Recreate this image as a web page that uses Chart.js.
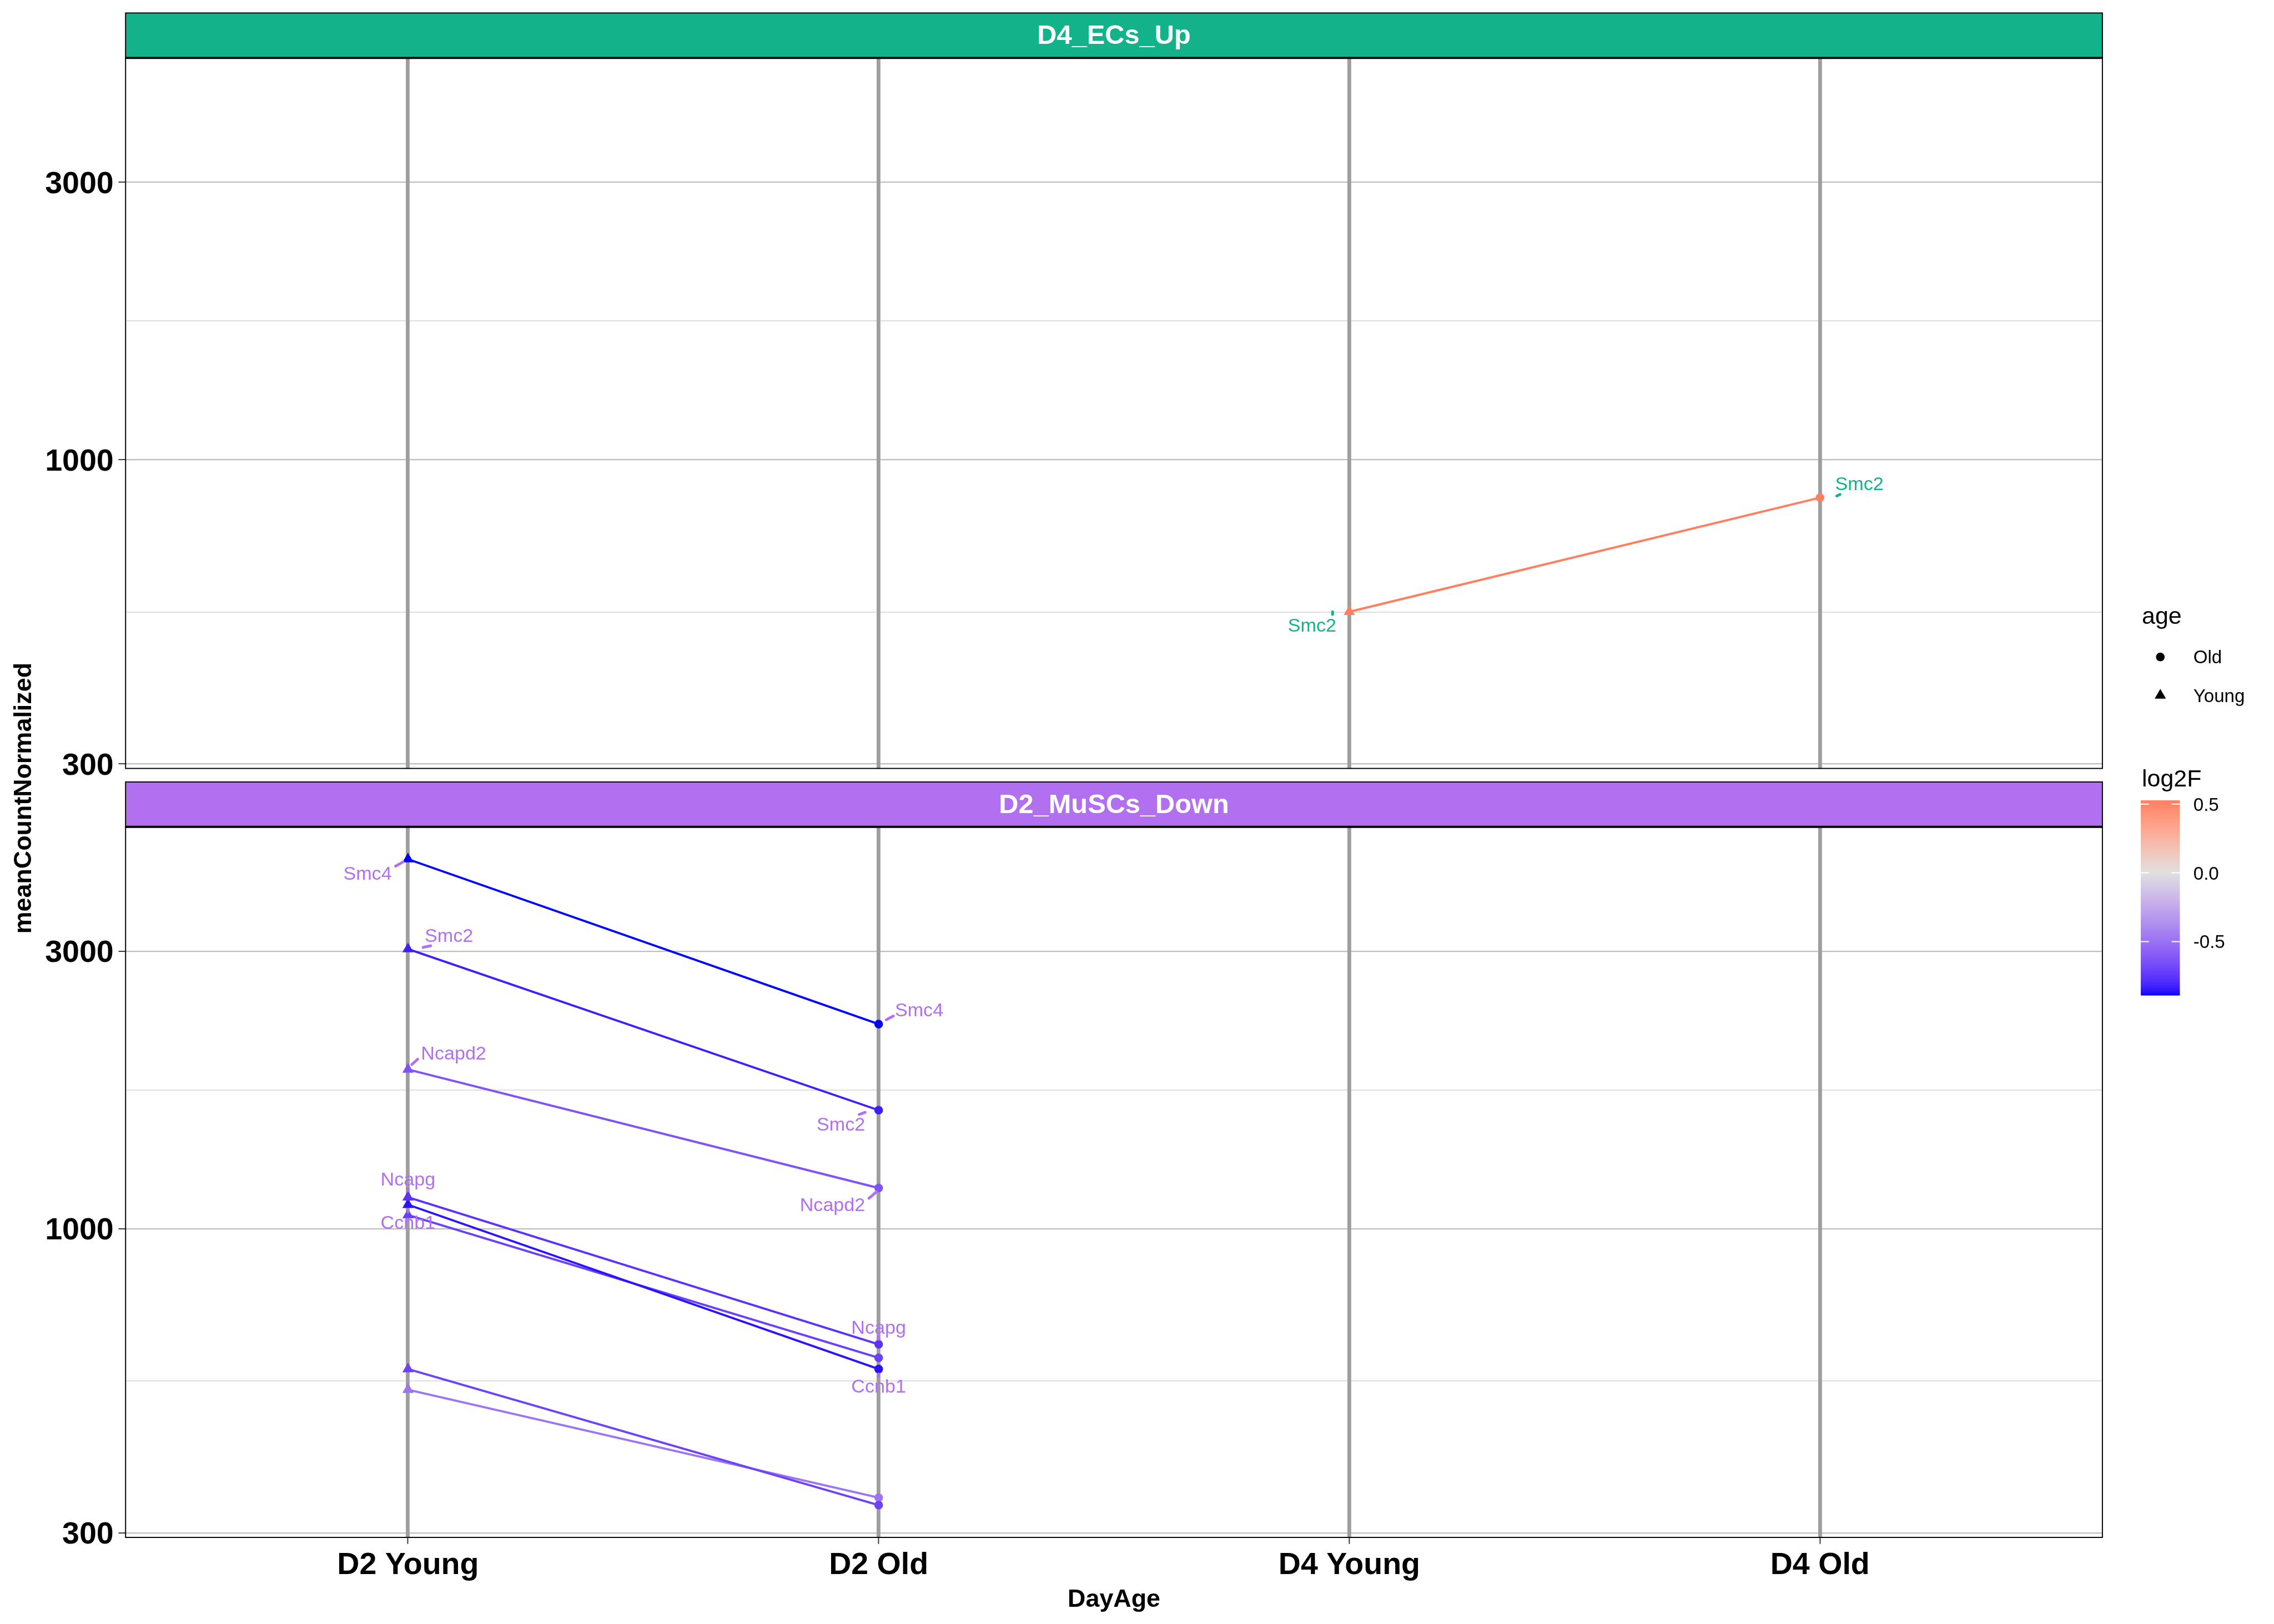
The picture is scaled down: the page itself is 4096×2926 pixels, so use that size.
<!DOCTYPE html>
<html><head><meta charset="utf-8">
<script src="https://cdn.jsdelivr.net/npm/chart.js@4.4.1/dist/chart.umd.min.js"></script>
<style>html,body{margin:0;padding:0;background:#fff;overflow:hidden}canvas{position:absolute;left:0;top:0}</style>
</head><body>
<canvas id="cBottom" width="4096" height="2926"></canvas>
<canvas id="cTop" width="4096" height="2926"></canvas>
<script>
// ---------------- DATA ----------------
const categories = ['D2 Young', 'D2 Old', 'D4 Young', 'D4 Old'];
const yTicks = [300, 1000, 3000];
const panelTitles = ['D4_ECs_Up', 'D2_MuSCs_Down'];

// Panel D4_ECs_Up
const ecsGenes   = ['Smc2'];
const ecsD4Young = [548];
const ecsD4Old   = [861];
const ecsLog2F   = [0.527];

// Panel D2_MuSCs_Down (null = gene without a text label)
const muscGenes   = ['Smc4', 'Smc2', 'Ncapd2', 'Ncapg', 'Ccnb1', null, null, null];
const muscD2Young = [4318, 3026, 1879, 1133, 1100, 1056, 574, 529];
const muscD2Old   = [2248, 1599, 1175, 633, 574, 600, 335, 345];
const muscLog2F   = [-0.89, -0.83, -0.63, -0.76, -0.86, -0.71, -0.70, -0.48];

const ageLevels = ['Old', 'Young'];
const colorbarTicks = [0.5, 0.0, -0.5];

// ---------------- STYLE / LAYOUT ----------------
const S = 0.975;
const W = 4096, H = 2926;
const FONT = "'Liberation Sans', Arial, Helvetica, sans-serif";
const panelColors = {'D4_ECs_Up': '#12B38A', 'D2_MuSCs_Down': '#B070F0'};
const ageShapes = {Young: 'triangle', Old: 'circle'};
const ageRadius = {Young: 12, Old: 8};

// label offsets (reference pixels) relative to the point: key gene|pointIndex
const labelLayout = {
  'D2_MuSCs_Down': {
    'Smc4|0':   {dx: -30, dy: 26,  align: 'right',  seg: [-23, 13, -9, 5]},
    'Smc2|0':   {dx: 31,  dy: -25, align: 'left',   seg: [28, -3, 42, -6]},
    'Ncapd2|0': {dx: 24,  dy: -30, align: 'left',   seg: [7, -9, 18, -19]},
    'Ncapg|0':  {dx: 0,   dy: -33, align: 'center', seg: [0, -16, 0, -12]},
    'Ccnb1|0':  {dx: 0,   dy: 33,  align: 'center', seg: [0, 10, 0, 14]},
    'Smc4|1':   {dx: 30,  dy: -26, align: 'left',   seg: [14, -8, 27, -15]},
    'Smc2|1':   {dx: -25, dy: 26,  align: 'right',  seg: [-36, 8, -25, 4]},
    'Ncapd2|1': {dx: -25, dy: 31,  align: 'right',  seg: [-18, 19, -4, 7]},
    'Ncapg|1':  {dx: 0,   dy: -31, align: 'center', seg: [0, -14, 0, -9]},
    'Ccnb1|1':  {dx: 0,   dy: 32,  align: 'center', seg: [0, 9, 0, 14]}
  },
  'D4_ECs_Up': {
    'Smc2|0': {dx: -24, dy: 25,  align: 'right', seg: [-31, 0, -31, 5]},
    'Smc2|1': {dx: 28,  dy: -26, align: 'left',  seg: [31, -3, 37, -6]}
  }
};

// ---------------- COLOUR SCALE (gradient2 in CIELAB) ----------------
function srgbToLin(c) { c /= 255; return c <= 0.04045 ? c / 12.92 : Math.pow((c + 0.055) / 1.055, 2.4); }
function linToSrgb(c) { c = Math.min(1, Math.max(0, c)); return Math.round(255 * (c <= 0.0031308 ? 12.92 * c : 1.055 * Math.pow(c, 1 / 2.4) - 0.055)); }
function hexToLab(hex) {
  const r = srgbToLin(parseInt(hex.slice(1, 3), 16)), g = srgbToLin(parseInt(hex.slice(3, 5), 16)), b = srgbToLin(parseInt(hex.slice(5, 7), 16));
  let X = (0.4124 * r + 0.3576 * g + 0.1805 * b) / 0.95047;
  let Y = (0.2126 * r + 0.7152 * g + 0.0722 * b);
  let Z = (0.0193 * r + 0.1192 * g + 0.9505 * b) / 1.08883;
  const f = t => t > 0.008856 ? Math.cbrt(t) : (7.787 * t + 16 / 116);
  const fx = f(X), fy = f(Y), fz = f(Z);
  return [116 * fy - 16, 500 * (fx - fy), 200 * (fy - fz)];
}
function labToRgb(L, a, b) {
  const fy = (L + 16) / 116, fx = fy + a / 500, fz = fy - b / 200;
  const fi = t => t * t * t > 0.008856 ? t * t * t : (t - 16 / 116) / 7.787;
  const X = fi(fx) * 0.95047, Y = fi(fy), Z = fi(fz) * 1.08883;
  const r = 3.2406 * X - 1.5372 * Y - 0.4986 * Z;
  const g = -0.9689 * X + 1.8758 * Y + 0.0415 * Z;
  const bb = 0.0557 * X - 0.2040 * Y + 1.0570 * Z;
  return 'rgb(' + linToSrgb(r) + ',' + linToSrgb(g) + ',' + linToSrgb(bb) + ')';
}
const allLog2F = ecsLog2F.concat(muscLog2F);
const vMin = Math.min(...allLog2F), vMax = Math.max(...allLog2F);
const LOW = hexToLab('#0000FF'), MID = hexToLab('#E0E0E0'), HIGH = hexToLab('#FF0000');
function colorFor(v) {
  const m = Math.max(Math.abs(vMin), Math.abs(vMax));
  const t = v / m;
  const to = t < 0 ? LOW : HIGH, f = Math.min(1, Math.abs(t));
  return labToRgb(MID[0] + (to[0] - MID[0]) * f, MID[1] + (to[1] - MID[1]) * f, MID[2] + (to[2] - MID[2]) * f);
}

// ---------------- Y RANGE (log, 5% expansion) ----------------
const allVals = ecsD4Young.concat(ecsD4Old, muscD2Young, muscD2Old);
const lLo = Math.log10(Math.min(...allVals)), lHi = Math.log10(Math.max(...allVals));
const ex = (lHi - lLo) * 0.05;
const yMin = Math.pow(10, lLo - ex), yMax = Math.pow(10, lHi + ex);
const yMinor = [];
for (let i = 0; i < yTicks.length - 1; i++) yMinor.push(Math.sqrt(yTicks[i] * yTicks[i + 1]));
const yAllTicks = yTicks.concat(yMinor).sort((a, b) => a - b);

// ---------------- DATASETS ----------------
function buildDatasets(genes, youngVals, oldVals, l2f, youngCat, oldCat) {
  const cats = [youngCat, oldCat];
  const ages = cats.map(c => c.split(' ')[1]);
  return genes.map((g, i) => {
    const col = colorFor(l2f[i]);
    return {
      label: g || '',
      gene: g,
      data: [{x: categories.indexOf(youngCat), y: youngVals[i]}, {x: categories.indexOf(oldCat), y: oldVals[i]}],
      borderColor: col, backgroundColor: col, pointBackgroundColor: col,
      borderWidth: 4 * S,
      pointStyle: ages.map(a => ageShapes[a]),
      pointRadius: ages.map(a => ageRadius[a] * S),
      pointHoverRadius: ages.map(a => ageRadius[a] * S),
      pointBorderWidth: 0, tension: 0, fill: false
    };
  });
}

// ---------------- PLUGINS ----------------
const facetPlugin = {
  id: 'facet',
  afterDraw(chart, args, opts) {
    const ctx = chart.ctx, a = chart.chartArea;
    const top = a.top - 83 * S;
    ctx.save();
    ctx.fillStyle = opts.color;
    ctx.fillRect(a.left, top, a.right - a.left, a.top - top);
    ctx.strokeStyle = '#000'; ctx.lineWidth = 2 * S;
    ctx.strokeRect(a.left, top, a.right - a.left, a.top - top);
    ctx.strokeRect(a.left, a.top, a.right - a.left, a.bottom - a.top);
    ctx.lineWidth = 4 * S;
    ctx.beginPath(); ctx.moveTo(a.left, a.top); ctx.lineTo(a.right, a.top); ctx.stroke();
    ctx.fillStyle = '#fff';
    ctx.font = 'bold ' + (50 * S) + 'px ' + FONT;
    ctx.textAlign = 'center'; ctx.textBaseline = 'middle';
    ctx.fillText(opts.title, (a.left + a.right) / 2, (top + a.top) / 2 + 2 * S);
    ctx.restore();
  }
};

const labelPlugin = {
  id: 'geneLabels',
  afterDatasetsDraw(chart, args, opts) {
    const layout = labelLayout[opts.panel] || {};
    const ctx = chart.ctx;
    ctx.save();
    ctx.font = (35 * S) + 'px ' + FONT;
    ctx.textBaseline = 'middle';
    ctx.fillStyle = opts.color; ctx.strokeStyle = opts.color;
    ctx.lineWidth = 5 * S; ctx.lineCap = 'round';
    chart.data.datasets.forEach((ds, di) => {
      if (!ds.gene) return;
      const meta = chart.getDatasetMeta(di);
      meta.data.forEach((pt, pi) => {
        const L = layout[ds.gene + '|' + pi];
        if (!L) return;
        ctx.beginPath();
        ctx.moveTo(pt.x + L.seg[0] * S, pt.y + L.seg[1] * S);
        ctx.lineTo(pt.x + L.seg[2] * S, pt.y + L.seg[3] * S);
        ctx.stroke();
        ctx.textAlign = L.align;
        ctx.fillText(ds.gene, pt.x + L.dx * S, pt.y + (L.dy + 2) * S);
      });
    });
    ctx.restore();
  }
};

const decorPlugin = {
  id: 'decor',
  afterDraw(chart, args, opts) {
    if (!opts.enabled) return;
    const ctx = chart.ctx;
    ctx.save();
    ctx.fillStyle = '#000';
    // axis titles
    ctx.font = 'bold ' + (46 * S) + 'px ' + FONT;
    ctx.textAlign = 'center'; ctx.textBaseline = 'alphabetic';
    ctx.fillText('DayAge', (chart.chartArea.left + chart.chartArea.right) / 2, 2969 * S);
    ctx.save();
    ctx.translate(57 * S, 1475 * S);
    ctx.rotate(-Math.PI / 2);
    ctx.fillText('meanCountNormalized', 0, 0);
    ctx.restore();
    // shape legend
    ctx.textAlign = 'left';
    ctx.font = (44 * S) + 'px ' + FONT;
    ctx.fillText('age', 3957 * S, 1153 * S);
    ageLevels.forEach((lvl, i) => {
      const cy = (1214 + i * 71) * S, cx = 3991 * S, r = ageRadius[lvl] * S;
      ctx.beginPath();
      if (ageShapes[lvl] === 'circle') {
        ctx.arc(cx, cy, r, 0, Math.PI * 2);
      } else {
        ctx.moveTo(cx, cy - r);
        ctx.lineTo(cx + Math.sin(2 * Math.PI / 3) * r, cy + r / 2);
        ctx.lineTo(cx - Math.sin(2 * Math.PI / 3) * r, cy + r / 2);
        ctx.closePath();
      }
      ctx.fill();
      ctx.font = (34 * S) + 'px ' + FONT;
      ctx.textBaseline = 'middle';
      ctx.fillText(lvl, 4052 * S, cy + (i ? 3 : 2) * S);
      ctx.textBaseline = 'alphabetic';
    });
    // colour bar
    ctx.font = (44 * S) + 'px ' + FONT;
    ctx.fillText('log2F', 3957 * S, 1453 * S);
    const bx = 3955 * S, bw = 72 * S, by = 1479 * S, bh = 360 * S;
    const n = Math.round(bh);
    for (let i = 0; i < n; i++) {
      const v = vMax - (i + 0.5) / n * (vMax - vMin);
      ctx.fillStyle = colorFor(v);
      ctx.fillRect(bx, by + i * bh / n, bw, bh / n + 0.6);
    }
    ctx.strokeStyle = '#fff'; ctx.lineWidth = 2 * S;
    ctx.font = (34 * S) + 'px ' + FONT;
    ctx.textBaseline = 'middle';
    colorbarTicks.forEach(t => {
      const y = by + (vMax - t) / (vMax - vMin) * bh;
      ctx.beginPath();
      ctx.moveTo(bx, y); ctx.lineTo(bx + 15 * S, y);
      ctx.moveTo(bx + bw - 15 * S, y); ctx.lineTo(bx + bw, y);
      ctx.stroke();
      ctx.fillStyle = '#000';
      ctx.fillText(t.toFixed(1), 4052 * S, y + 3 * S);
    });
    ctx.restore();
  }
};

// ---------------- CHARTS ----------------
function makePanel(canvasId, panel, datasets, areaTop, areaBottom, isBottom) {
  return new Chart(document.getElementById(canvasId), {
    type: 'line',
    data: {datasets},
    plugins: [facetPlugin, labelPlugin, decorPlugin],
    options: {
      responsive: false, animation: false, devicePixelRatio: 1,
      layout: {padding: {left: 0, right: W - 3884 * S, top: areaTop * S, bottom: 0}},
      events: [],
      plugins: {
        legend: {display: false}, tooltip: {enabled: false},
        facet: {title: panel, color: panelColors[panel]},
        geneLabels: {panel, color: panelColors[panel]},
        decor: {enabled: isBottom}
      },
      scales: {
        x: {
          type: 'linear', min: -0.6, max: 3.6,
          afterBuildTicks: s => { s.ticks = categories.map((c, i) => ({value: i})); },
          afterFit: s => { s.height = H - areaBottom * S; },
          border: {display: false},
          grid: {color: '#9E9E9E', lineWidth: 7 * S, drawTicks: isBottom, tickLength: 12 * S,
                 tickColor: '#333', tickWidth: 2 * S, z: -1},
          ticks: {display: isBottom, autoSkip: false, maxRotation: 0, minRotation: 0, padding: 8 * S,
                  color: '#000', font: {family: FONT, size: 57 * S, weight: 'bold', lineHeight: 1.12},
                  callback: v => categories[v]}
        },
        y: {
          type: 'logarithmic', min: yMin, max: yMax,
          afterBuildTicks: s => { s.ticks = yAllTicks.map(v => ({value: v})); },
          afterFit: s => { s.width = 232 * S; },
          border: {display: false},
          grid: {
            z: -2, drawTicks: true, tickLength: 13 * S, tickWidth: 2 * S,
            color: c => (c.tick && yTicks.includes(c.tick.value)) ? '#BEBEBE' : '#DEDEDE',
            lineWidth: c => (c.tick && yTicks.includes(c.tick.value)) ? 2.2 * S : 2 * S,
            tickColor: c => (c.tick && yTicks.includes(c.tick.value)) ? '#333' : 'rgba(0,0,0,0)'
          },
          ticks: {
            padding: 9 * S, color: '#000', labelOffset: 4 * S,
            font: {family: FONT, size: 57 * S, weight: 'bold'},
            callback: v => yTicks.includes(v) ? String(v) : ''
          }
        }
      }
    }
  });
}

makePanel('cBottom', panelTitles[1],
  buildDatasets(muscGenes, muscD2Young, muscD2Old, muscLog2F, 'D2 Young', 'D2 Old'),
  1528, 2841, true);
makePanel('cTop', panelTitles[0],
  buildDatasets(ecsGenes, ecsD4Young, ecsD4Old, ecsLog2F, 'D4 Young', 'D4 Old'),
  107, 1420, false);
</script></body></html>
